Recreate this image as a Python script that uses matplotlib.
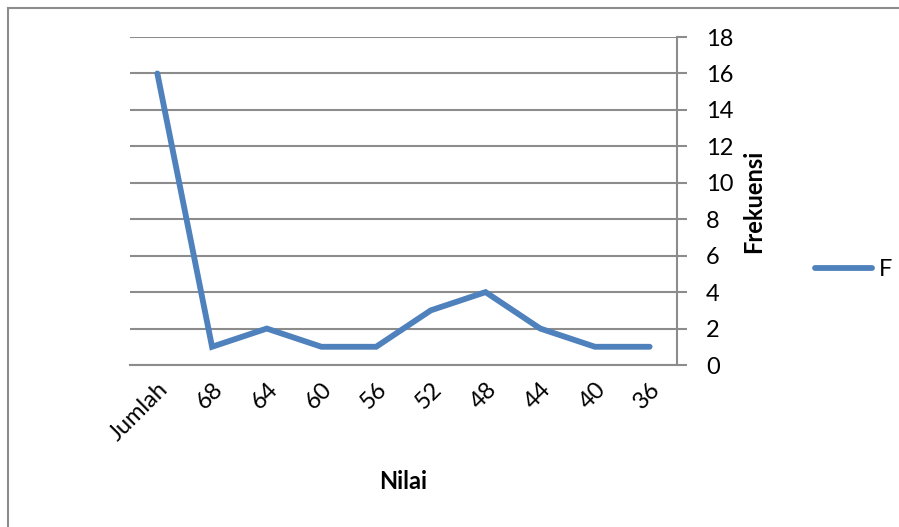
import matplotlib.pyplot as plt
from matplotlib.lines import Line2D

categories = ["Jumlah", "68", "64", "60", "56", "52", "48", "44", "40", "36"]
frekuensi = [16, 1, 2, 1, 1, 3, 4, 2, 1, 1]
y_ticks = [0, 2, 4, 6, 8, 10, 12, 14, 16, 18]

plt.rcParams.update({"font.family": ["Lato", "DejaVu Sans"], "font.size": 17})

W, H = 899, 527
fig = plt.figure(figsize=(W / 100, H / 100), dpi=100)
ax = fig.add_axes([130 / W, 1 - 365 / H, (677 - 130) / W, (365 - 37) / H])

x = [i + 0.5 for i in range(len(categories))]
line, = ax.plot(x, frekuensi, color="#4F81BD", lw=4.2, solid_capstyle="round",
                solid_joinstyle="miter", label="F", zorder=3)

ax.set_xlim(0, len(categories))
ax.set_ylim(0, 18)
ax.set_yticks(y_ticks)
ax.yaxis.tick_right()
ax.yaxis.set_label_position("right")
ax.tick_params(axis="y", length=7, width=1.5, color="#8c8c8c", pad=14)
ax.set_xticks(x)
ax.set_xticklabels(categories, rotation=45, ha="right", va="top",
                   rotation_mode="anchor")
ax.tick_params(axis="x", length=0, pad=10)
ax.grid(axis="y", color="#8c8c8c", lw=1.5)
ax.set_axisbelow(True)
for side in ["left", "top"]:
    ax.spines[side].set_visible(False)
ax.spines["right"].set_color("#8c8c8c")
ax.spines["right"].set_linewidth(1.5)
ax.spines["bottom"].set_color("#8c8c8c")
ax.spines["bottom"].set_linewidth(1.5)

ax.set_xlabel("Nilai", fontweight="bold", fontsize=17, labelpad=18)
ax.set_ylabel("Frekuensi", fontweight="bold", fontsize=17, labelpad=6)

fig.legend(handles=[line], loc="center left", bbox_to_anchor=(808 / W, 1 - 270 / H),
           frameon=False, handlelength=2.4, handletextpad=0.3, fontsize=17,
           borderaxespad=0, borderpad=0.3)

# outer chart border (top and left visible)
fig.add_artist(Line2D([8 / W, 1], [1 - 8 / H, 1 - 8 / H], color="#8c8c8c", lw=1.5,
                      transform=fig.transFigure))
fig.add_artist(Line2D([8 / W, 8 / W], [0, 1 - 8 / H], color="#8c8c8c", lw=1.5,
                      transform=fig.transFigure))

fig.savefig("out.png", dpi=100)
